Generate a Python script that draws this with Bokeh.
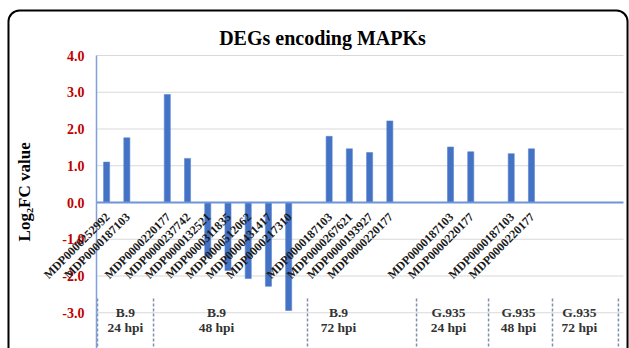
import math
from bokeh.plotting import figure
from bokeh.models import (Range1d, FixedTicker, PrintfTickFormatter, Label,
                          LabelSet, ColumnDataSource)
from bokeh.core.properties import value
from bokeh.embed import file_html
from bokeh.resources import INLINE

# ---- data ----
genes = ["MDP0000252992", "MDP0000187103", "",
         "MDP0000220177", "MDP0000237742", "MDP0000132521", "MDP0000311835",
         "MDP0000512062", "MDP0000431417", "MDP0000217310", "",
         "MDP0000187103", "MDP0000267621", "MDP0000193927", "MDP0000220177", "", "",
         "MDP0000187103", "MDP0000220177", "",
         "MDP0000187103", "MDP0000220177", "", "", "", ""]
log2fc = [1.10, 1.76, None,
          2.94, 1.20, -1.47, -1.85, -2.07, -2.28, -2.94, None,
          1.80, 1.46, 1.36, 2.22, None, None,
          1.51, 1.38, None,
          1.33, 1.46, None, None, None, None]
group_names = ["B.9", "B.9", "B.9", "G.935", "G.935", "G.935"]
group_times = ["24 hpi", "48 hpi", "72 hpi", "24 hpi", "48 hpi", "72 hpi"]
y_ticks = [-4, -3, -2, -1, 0, 1, 2, 3, 4]
title_text = "DEGs encoding MAPKs"
y_title = "Log\u2082FC value"

# ---- style constants ----
SERIF = "Liberation Serif"
BAR = "#4472C4"
group_label_x = [1.43, 5.93, 11.96, 17.40, 20.86, 23.87]
group_sep_x = [0.05, 2.82, 10.43, 15.82, 19.38, 22.54, 25.8]
GRID_END = 26.05

n = len(genes)
p = figure(width=629, height=348, x_range=Range1d(-4.745, 26.347), y_range=Range1d(-3.973, 5.497),
           output_backend="svg", toolbar_location=None,
           min_border_left=0, min_border_right=0, min_border_top=0, min_border_bottom=0)
p.title.visible = False
p.outline_line_color = None
p.xaxis.visible = False
p.xgrid.visible = False
p.ygrid.visible = False

ax = p.yaxis[0]
ax.fixed_location = 0
ax.bounds = (-4, 4)
ax.ticker = FixedTicker(ticks=y_ticks)
ax.formatter = PrintfTickFormatter(format="%.1f")
ax.major_tick_line_color = None
ax.minor_tick_line_color = None
ax.major_tick_out = 0
ax.major_tick_in = 0
ax.axis_line_color = "#7FA0DA"
ax.axis_line_width = 1.5
ax.major_label_text_color = "#C00000"
ax.major_label_text_font = SERIF
ax.major_label_text_font_style = "bold"
ax.major_label_text_font_size = "14px"
ax.major_label_standoff = 12

# outer rounded frame (decoration)
p.quad(left=[-4.35], right=[26.25], top=[5.2245], bottom=[-5.0], fill_color=None,
       line_color="#000000", line_width=2, border_radius=11)

# horizontal gridlines (zero line in blue)
gl = [t for t in y_ticks if t != 0]
p.segment(x0=[0] * len(gl), y0=gl, x1=[GRID_END] * len(gl), y1=gl,
          line_color="#D9D9D9", line_width=1)

# bars
bx = [i + 0.5 for i, v in enumerate(log2fc) if v is not None]
bt = [v for v in log2fc if v is not None]
p.vbar(x=bx, top=bt, bottom=0, width=0.3, fill_color=BAR, line_color="#5A86D2", line_width=0.6)

p.segment(x0=[0], y0=[0], x1=[GRID_END], y1=[0], line_color="#6F94D8", line_width=2)

# category labels
lab_src = ColumnDataSource(dict(x=[i + 0.55 for i in range(n)], y=[-0.34] * n, text=genes))
p.add_layout(LabelSet(x="x", y="y", text="text", source=lab_src, angle=math.pi / 4,
                      text_align="right", text_baseline="middle",
                      text_font=value(SERIF), text_font_style="bold", text_font_size="12px",
                      text_color="#1a1a1a"))

# group separators
p.segment(x0=group_sep_x, y0=[-2.61] * len(group_sep_x), x1=group_sep_x, y1=[-3.973] * len(group_sep_x),
          line_color="#7E90AA", line_width=1.5, line_dash="3 2")

# group labels
g1 = ColumnDataSource(dict(x=group_label_x, y=[-2.985] * 6, text=group_names))
g2 = ColumnDataSource(dict(x=group_label_x, y=[-3.39] * 6, text=group_times))
for src in (g1, g2):
    p.add_layout(LabelSet(x="x", y="y", text="text", source=src, text_align="center",
                          text_baseline="middle", text_font=value(SERIF), text_font_style="bold",
                          text_font_size="13.5px", text_color="#333333"))

# title and y title
p.add_layout(Label(x=11.17, y=4.49, text=title_text, text_align="center", text_baseline="middle",
                   text_font=SERIF, text_font_style="bold", text_font_size="20px", text_color="black"))
p.add_layout(Label(x=-3.55, y=0.29, text=y_title, angle=math.pi / 2, text_align="center",
                   text_baseline="middle", text_font=SERIF, text_font_style="bold",
                   text_font_size="17px", text_color="black"))

open("out.html", "w").write(file_html(p, INLINE))
